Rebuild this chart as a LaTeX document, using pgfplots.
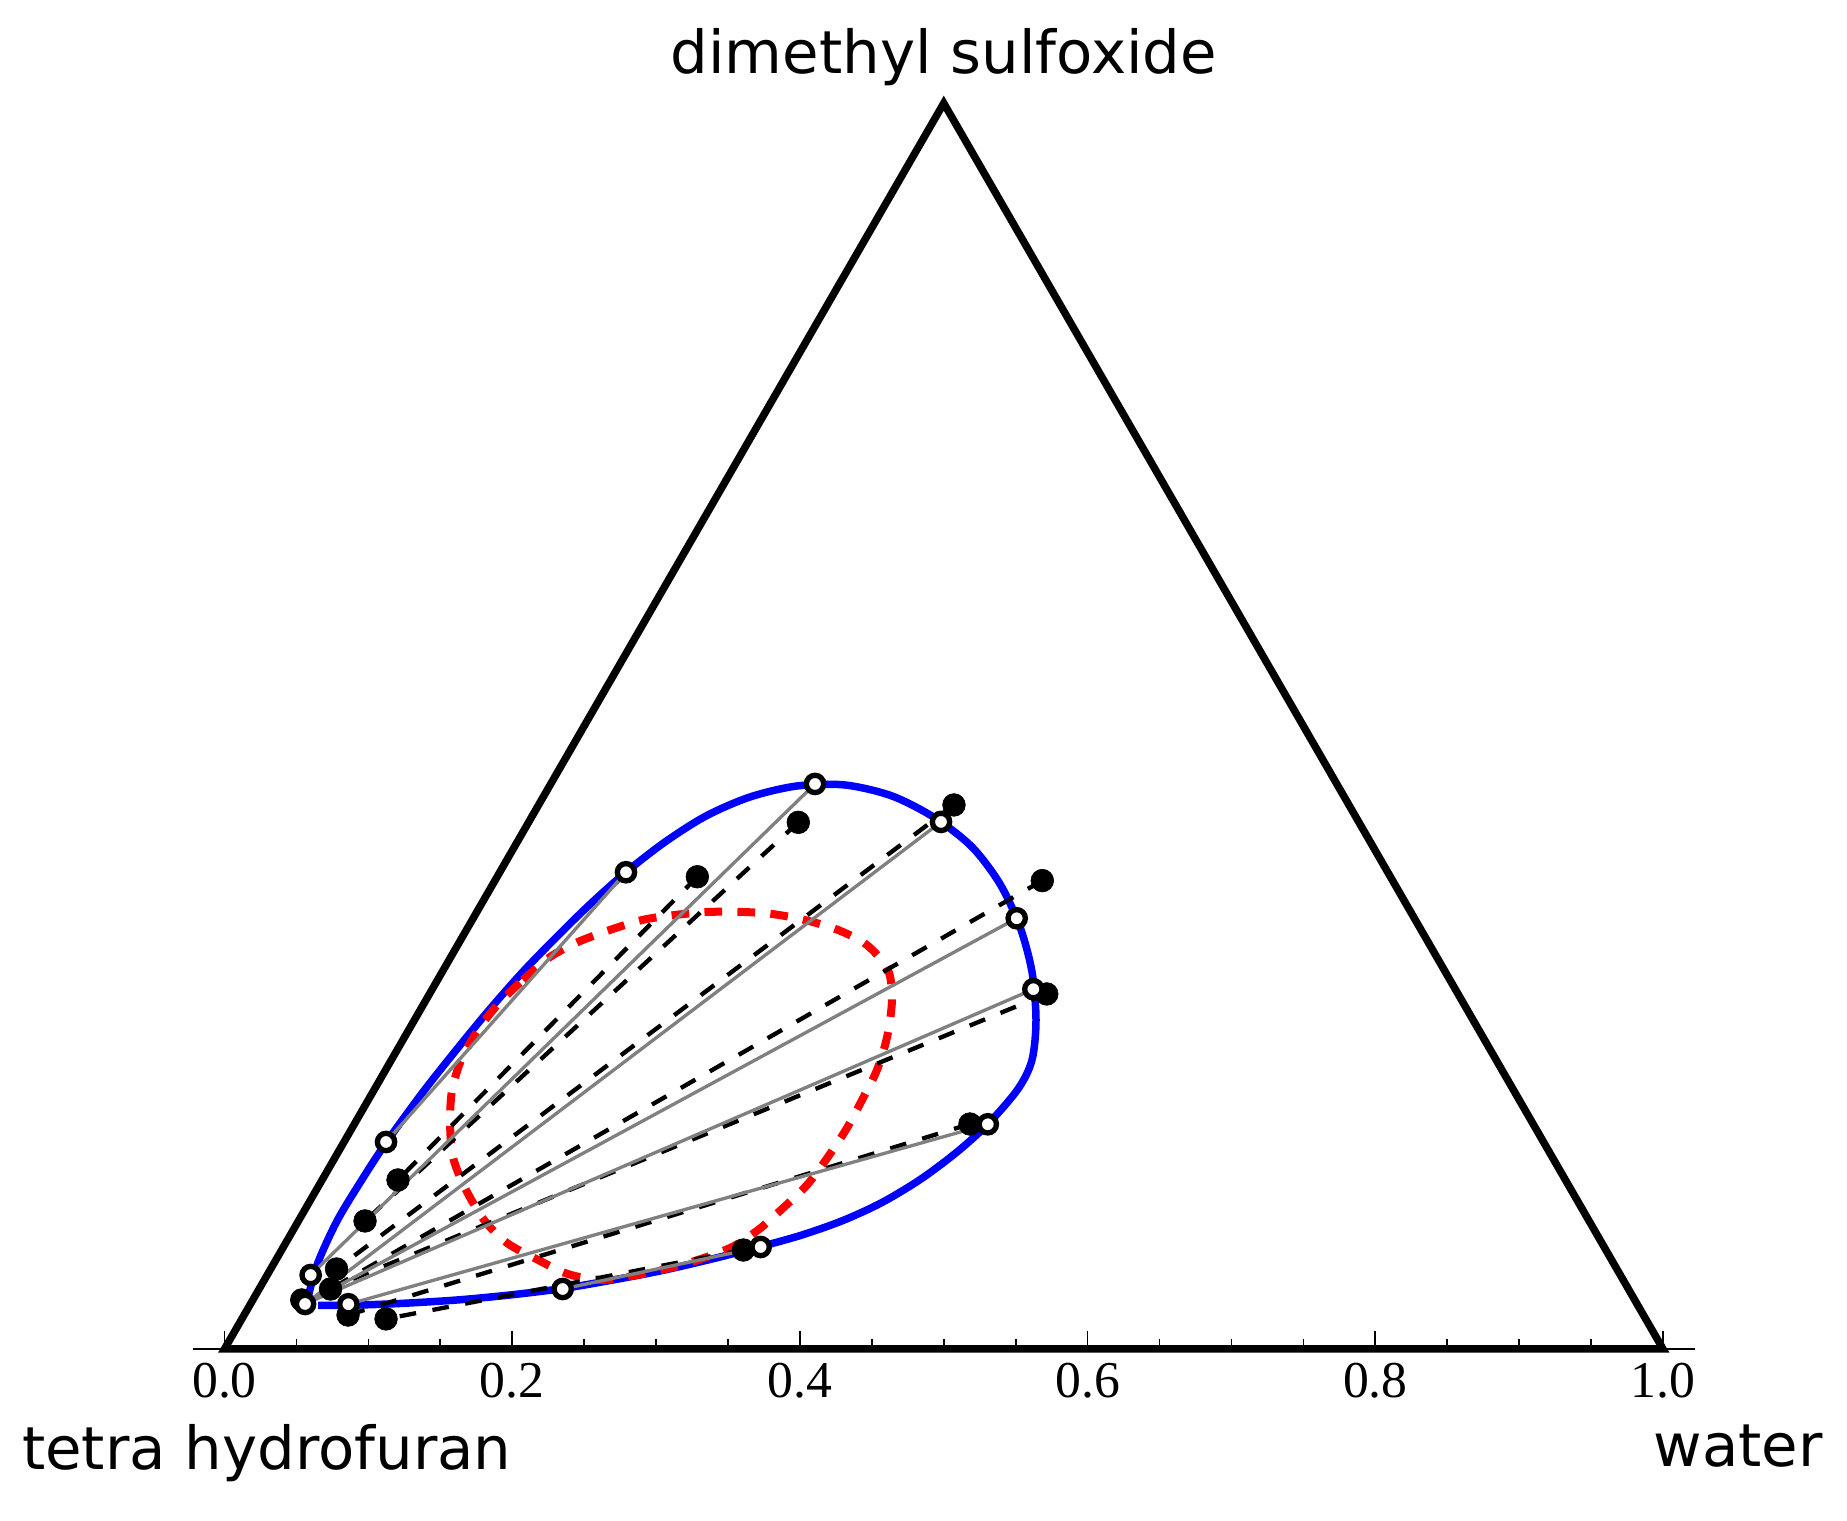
\documentclass[border=0pt]{standalone}
\usepackage{fontspec}
\setmainfont{DejaVu Sans}
\newfontfamily\tickfont{Liberation Serif}
\usepackage{pgfplots}
\pgfplotsset{compat=1.18}

\begin{document}
\begin{tikzpicture}
\begin{axis}[
    x=431.55pt, y=431.55pt,
    xmin=-0.022, xmax=1.022, ymin=0, ymax=0.9,
    axis x line=bottom, axis y line=none,
    x axis line style={-, line width=0.35pt},
    xtick={0,0.2,0.4,0.6,0.8,1.0},
    xticklabels={0.0,0.2,0.4,0.6,0.8,1.0},
    minor x tick num=3,
    tick align=inside,
    major tick length=5.3pt, minor tick length=3.1pt,
    every tick/.style={black, line width=0.5pt},
    xticklabel style={font=\tickfont\fontsize{15.5}{18}\selectfont, anchor=base, yshift=-14.6pt},
    clip=false,
]
% page extent
\path (axis cs:-0.15607,-0.11957) rectangle (axis cs:1.12791,0.93778);

% binodal (calculated)
\addplot[blue, line width=2.25pt, smooth] coordinates {
    (0.05735,0.03267) (0.06430,0.05839) (0.07821,0.08898) (0.09628,0.11887)
    (0.11297,0.14432) (0.13799,0.17866) (0.16163,0.20855) (0.18457,0.23636)
    (0.20751,0.26236) (0.23115,0.28669) (0.25409,0.30914) (0.27911,0.33146)
    (0.30622,0.35245) (0.33472,0.37052) (0.36531,0.38373) (0.39798,0.39138)
    (0.43135,0.39207) (0.46403,0.38443) (0.49392,0.36913) (0.51964,0.34898)
    (0.53911,0.32325) (0.55301,0.29336) (0.56135,0.26208) (0.56413,0.22871)
    (0.56135,0.20090) (0.55162,0.18074) (0.53076,0.15641) (0.50921,0.13695)
    (0.48419,0.11818) (0.45707,0.10184) (0.42996,0.08933) (0.40146,0.07925)
    (0.37296,0.07126) (0.33751,0.06222) (0.30275,0.05422) (0.26799,0.04762)
    (0.23532,0.04206) (0.19847,0.03754) (0.16163,0.03406) (0.12200,0.03163)
    (0.08724,0.03038) (0.06500,0.03024)
};

% spinodal
\addplot[red, line width=2.4pt, dash pattern=on 5.3pt off 4.6pt, smooth] coordinates {
    (0.2075,0.2565) (0.2263,0.2725) (0.2457,0.2829) (0.2680,0.2913)
    (0.2902,0.2982) (0.3132,0.3017) (0.3361,0.3038) (0.3597,0.3038)
    (0.3806,0.3024) (0.4035,0.2982) (0.4265,0.2913) (0.4466,0.2808)
    (0.4612,0.2635) (0.4640,0.2426) (0.4606,0.2169) (0.4536,0.1940)
    (0.4432,0.1731) (0.4327,0.1536) (0.4195,0.1335) (0.4049,0.1140)
    (0.3883,0.0980) (0.3709,0.0827) (0.3514,0.0702) (0.3202,0.0591)
    (0.2868,0.0514) (0.2618,0.0480) (0.2388,0.0521) (0.2180,0.0619)
    (0.1964,0.0737) (0.1804,0.0897) (0.1672,0.1119) (0.1588,0.1335)
    (0.1568,0.1571) (0.1582,0.1800) (0.1651,0.2023) (0.1776,0.2238)
    (0.1915,0.2412) (0.2075,0.2565)
};

% experimental tie lines
\addplot[black, line width=1.3pt, dash pattern=on 5pt off 5pt, unbounded coords=jump] coordinates {
    (0.3287,0.3283) (0.1206,0.1175) (nan,nan)
    (0.3989,0.3661) (0.0977,0.0890) (nan,nan)
    (0.5071,0.3782) (0.0779,0.0556) (nan,nan)
    (0.5685,0.3256) (0.0737,0.0417) (nan,nan)
    (0.5716,0.2468) (0.0537,0.0341) (nan,nan)
    (0.5182,0.1564) (0.0859,0.0236) (nan,nan)
    (0.3607,0.0688) (0.1123,0.0209)
};
\addplot[only marks, mark=*, mark size=3.4pt, mark options={fill=black, draw=black, line width=0.2pt}] coordinates {
    (0.3287,0.3283) (0.1206,0.1175)
    (0.3989,0.3661) (0.0977,0.0890)
    (0.5071,0.3782) (0.0779,0.0556)
    (0.5685,0.3256) (0.0737,0.0417)
    (0.5716,0.2468) (0.0537,0.0341)
    (0.5182,0.1564) (0.0859,0.0236)
    (0.3607,0.0688) (0.1123,0.0209)
};

% calculated tie lines
\addplot[gray, line width=1pt, unbounded coords=jump] coordinates {
    (0.2791,0.3314) (0.1123,0.1439) (nan,nan)
    (0.4105,0.3928) (0.0599,0.0514) (nan,nan)
    (0.4981,0.3664) (0.0560,0.0313) (nan,nan)
    (0.5507,0.2994) (0.0560,0.0313) (nan,nan)
    (0.5623,0.2501) (0.0560,0.0313) (nan,nan)
    (0.5306,0.1562) (0.0861,0.0311) (nan,nan)
    (0.3727,0.0709) (0.2351,0.0417)
};
\addplot[only marks, mark=*, mark size=2.6pt, mark options={fill=white, draw=black, line width=1.6pt}] coordinates {
    (0.2791,0.3314) (0.1123,0.1439)
    (0.4105,0.3928) (0.0599,0.0514)
    (0.4981,0.3664) (0.0560,0.0313)
    (0.5507,0.2994)
    (0.5623,0.2501)
    (0.5306,0.1562) (0.0861,0.0311)
    (0.3727,0.0709) (0.2351,0.0417)
};

% triangle frame
\draw[black, line width=2.25pt, line join=miter] (axis cs:0,0) -- (axis cs:1,0) -- (axis cs:0.5,0.8660254) -- cycle;

% corner labels
\node[anchor=base, inner sep=0pt, font=\fontsize{17.8}{21}\selectfont] at (axis cs:0.5,0.8868) {dimethyl sulfoxide};
\node[anchor=base west, inner sep=0pt, font=\fontsize{17.8}{21}\selectfont] at (axis cs:-0.1411,-0.0841) {tetra hydrofuran};
\node[anchor=base east, inner sep=0pt, font=\fontsize{17.8}{21}\selectfont] at (axis cs:1.1115,-0.0816) {water};
\end{axis}
\end{tikzpicture}
\end{document}
